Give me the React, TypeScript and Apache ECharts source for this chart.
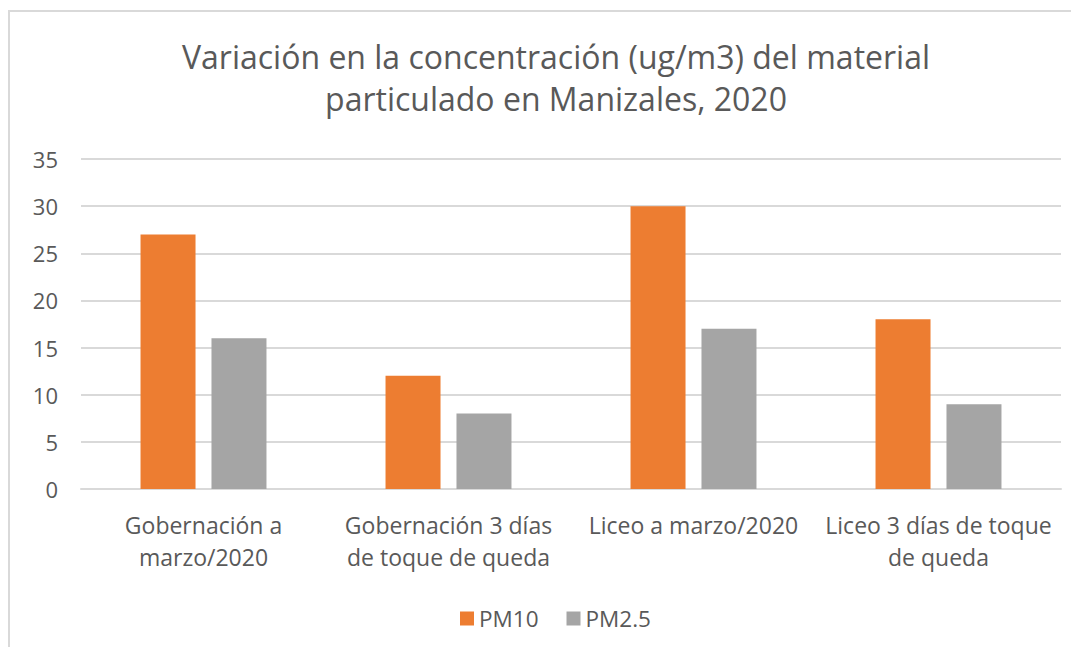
import React, { useEffect, useRef } from "react";
import * as echarts from "echarts";

const categories = [
  "Gobernación a\nmarzo/2020",
  "Gobernación 3 días\nde toque de queda",
  "Liceo a marzo/2020",
  "Liceo 3 días de toque\nde queda",
];
const pm10 = [27, 12, 30, 18];
const pm25 = [16, 8, 17, 9];
const titleText = "Variación en la concentración (ug/m3) del material\nparticulado en Manizales, 2020";

const FONT = "'Open Sans', 'Noto Sans', sans-serif";
const TXT = "#595959";

export default function App() {
  const ref = useRef<HTMLDivElement>(null);
  useEffect(() => {
    if (!ref.current) return;
    const chart = echarts.init(ref.current, null, { renderer: "svg" });
    chart.setOption({
      animation: false,
      backgroundColor: "#ffffff",
      textStyle: { fontFamily: FONT },
      title: {
        text: titleText,
        left: 543,
        top: 22,
        textAlign: "center",
        textStyle: {
          fontFamily: FONT,
          fontSize: 32,
          fontWeight: "normal",
          color: TXT,
          lineHeight: 42,
        },
      },
      graphic: [
        { type: "line", shape: { x1: 1, y1: 2, x2: 1, y2: 700 }, style: { stroke: "#d9d9d9", lineWidth: 2 } },
        { type: "line", shape: { x1: 0, y1: 3, x2: 1100, y2: 3 }, style: { stroke: "#d9d9d9", lineWidth: 2 } },
      ],
      legend: {
        data: ["PM10", "PM2.5"],
        left: 447,
        top: 594,
        itemWidth: 14,
        itemHeight: 14,
        itemGap: 28,
        icon: "rect",
        textStyle: { fontFamily: FONT, fontSize: 22.5, color: TXT },
      },
      grid: { left: 73, right: 10, top: 151, bottom: 158, containLabel: false },
      xAxis: {
        type: "category",
        data: categories,
        axisTick: { show: false },
        axisLine: { lineStyle: { color: "#d9d9d9", width: 2 } },
        axisLabel: {
          fontFamily: FONT,
          fontSize: 23,
          color: TXT,
          lineHeight: 32,
          margin: 20,
          interval: 0,
        },
      },
      yAxis: {
        type: "value",
        min: 0,
        max: 35,
        interval: 5,
        axisLine: { show: false },
        axisTick: { show: false },
        splitLine: { lineStyle: { color: "#d9d9d9", width: 2 } },
        axisLabel: { fontFamily: FONT, fontSize: 22, color: TXT, margin: 23 },
      },
      series: [
        {
          name: "PM10",
          type: "bar",
          data: pm10,
          barWidth: 55,
          barGap: "29%",
          itemStyle: { color: "#ED7D31" },
        },
        {
          name: "PM2.5",
          type: "bar",
          data: pm25,
          barWidth: 55,
          itemStyle: { color: "#A5A5A5" },
        },
      ],
    });
    return () => chart.dispose();
  }, []);
  return <div ref={ref} style={{ width: 1063, height: 639 }} />;
}
